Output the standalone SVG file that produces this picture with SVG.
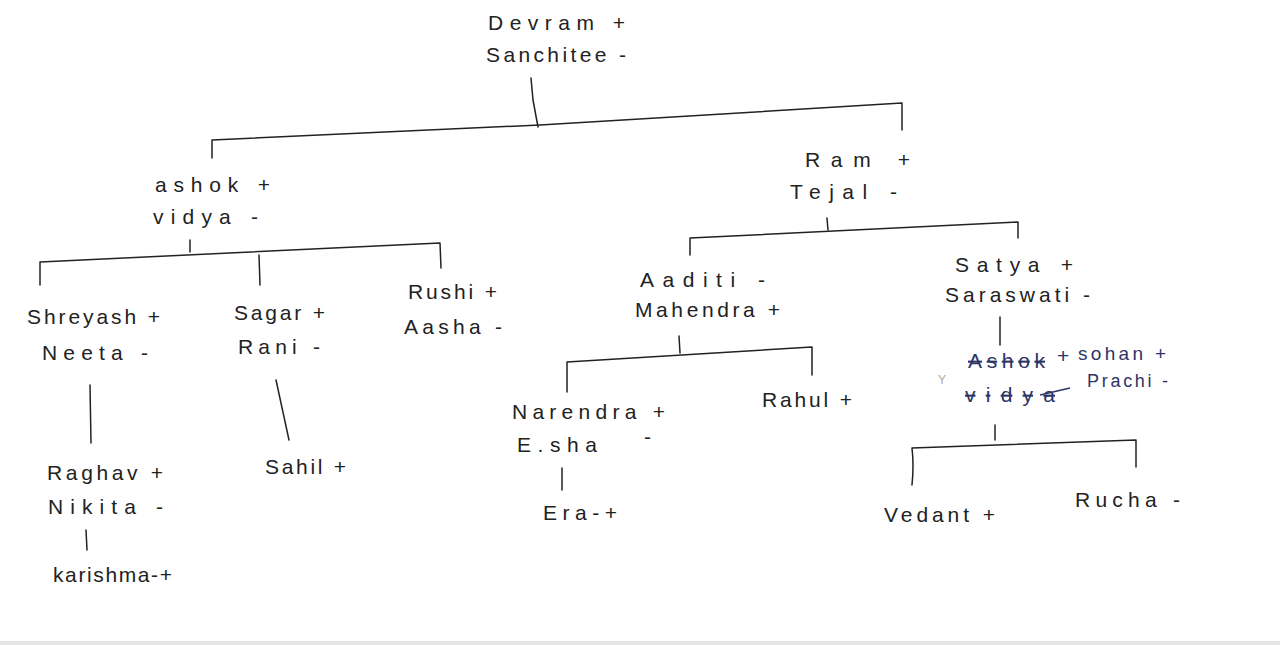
<svg xmlns="http://www.w3.org/2000/svg" width="1280" height="645" viewBox="0 0 1280 645">
<style>
text{font-family:"Liberation Sans","DejaVu Sans",sans-serif;font-size:21px;fill:#222222;}
.c path{fill:none;stroke:#222222;stroke-width:1.5;stroke-linecap:round;stroke-linejoin:round;}
.blue{fill:#2c3566;}
.strike{text-decoration:line-through;}
</style>
<rect width="1280" height="645" fill="#ffffff"/>
<rect x="0" y="641" width="1280" height="4" fill="#e4e4e4"/>
<g class="c" id="connectors">
<path d="M531 78 L533 100 L538 127"/>
<path d="M212 158 L212 140 L540 125 L902 103 L902 130"/>
<path d="M190 240 L190 252"/>
<path d="M40 285 L40 262 L440 243 L441 268"/>
<path d="M259 255 L260 285"/>
<path d="M90 385 L91 443"/>
<path d="M86 530 L87 550"/>
<path d="M276 380 L289 440"/>
<path d="M827 218 L828 230"/>
<path d="M690 255 L690 238 L1018 222 L1018 238"/>
<path d="M679 336 L680 353"/>
<path d="M567 392 L567 362 L812 347 L812 375"/>
<path d="M562 468 L562 490"/>
<path d="M1000 317 L1000 345"/>
<path d="M995 425 L995 440"/>
<path d="M912 485 Q914 465 912 448 L1136 440 L1136 467"/>
</g>
<g id="devram"><text x="488" y="30" textLength="137" lengthAdjust="spacing">Devram  +</text><text x="486" y="62" textLength="140" lengthAdjust="spacing">Sanchitee -</text></g>
<g id="ashok"><text x="155" y="192" textLength="115" lengthAdjust="spacing">ashok +</text><text x="153" y="224" textLength="105" lengthAdjust="spacing">vidya -</text></g>
<g id="ram"><text x="805" y="167" textLength="105" lengthAdjust="spacing">Ram +</text><text x="790" y="199" textLength="107" lengthAdjust="spacing">Tejal -</text></g>
<g id="shreyash"><text x="27" y="324" textLength="133" lengthAdjust="spacing">Shreyash +</text><text x="42" y="360" textLength="106" lengthAdjust="spacing">Neeta -</text></g>
<g id="sagar"><text x="234" y="320" textLength="91" lengthAdjust="spacing">Sagar +</text><text x="238" y="354" textLength="82" lengthAdjust="spacing">Rani -</text></g>
<g id="rushi"><text x="408" y="299" textLength="89" lengthAdjust="spacing">Rushi +</text><text x="404" y="334" textLength="98" lengthAdjust="spacing">Aasha -</text></g>
<g id="raghav"><text x="47" y="480" textLength="116" lengthAdjust="spacing">Raghav +</text><text x="48" y="514" textLength="115" lengthAdjust="spacing">Nikita  -</text></g>
<g id="karishma"><text x="53" y="582" textLength="119" lengthAdjust="spacing">karishma-+</text></g>
<g id="sahil"><text x="265" y="474" textLength="81" lengthAdjust="spacing">Sahil +</text></g>
<g id="aaditi"><text x="640" y="287" textLength="125" lengthAdjust="spacing">Aaditi  -</text><text x="635" y="317" textLength="145" lengthAdjust="spacing">Mahendra +</text></g>
<g id="satya"><text x="955" y="272" textLength="118" lengthAdjust="spacing">Satya +</text><text x="945" y="302" textLength="145" lengthAdjust="spacing">Saraswati  -</text></g>
<g id="narendra"><text x="512" y="419" textLength="153" lengthAdjust="spacing">Narendra +</text><text x="517" y="452" textLength="80" lengthAdjust="spacing">E.sha</text><text x="644" y="444">-</text></g>
<g id="era"><text x="543" y="520" textLength="74" lengthAdjust="spacing">Era-+</text></g>
<g id="rahul"><text x="762" y="407" textLength="90" lengthAdjust="spacing">Rahul +</text></g>
<g id="sohan">
<text x="968" y="368" textLength="77" lengthAdjust="spacing" class="blue strike">Ashok</text>
<text x="1057" y="363" class="blue">+</text>
<text x="1078" y="360" textLength="88" lengthAdjust="spacing" class="blue" style="font-size:19px">sohan +</text>
<text x="965" y="402" textLength="90" lengthAdjust="spacing" class="blue strike">vidya</text>
<path d="M1040 395 L1070 388" stroke="#2c3566" stroke-width="1.5" fill="none"/>
<text x="1087" y="387" textLength="81" lengthAdjust="spacing" class="blue" style="font-size:18px">Prachi -</text>
<text x="938" y="384" style="font-size:12px;fill:#aaaaaa">Y</text>
</g>
<g id="vedant"><text x="884" y="522" textLength="111" lengthAdjust="spacing">Vedant +</text></g>
<g id="rucha"><text x="1075" y="507" textLength="105" lengthAdjust="spacing">Rucha -</text></g>
</svg>
